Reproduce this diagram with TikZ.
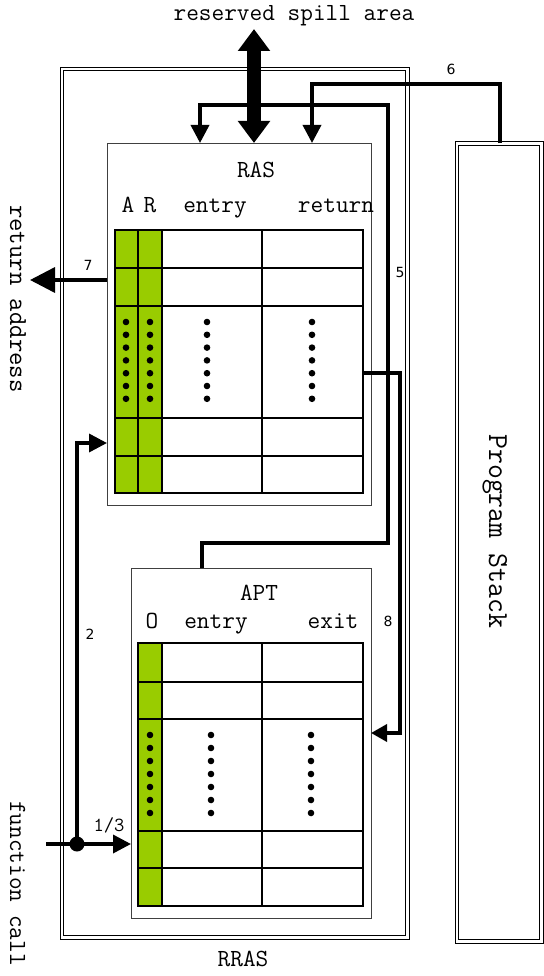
\documentclass[tikz,border=0pt]{standalone}
\usepackage{fontspec}
\newfontfamily\digitfont{DejaVu Sans}
\usetikzlibrary{arrows.meta,calc}
\definecolor{cellgreen}{RGB}{153,204,0}

\begin{document}
\begin{tikzpicture}[x=1pt,y=-1pt,
  lbl/.style={font=\ttfamily\fontsize{24.6}{27}\selectfont, inner sep=0pt, anchor=base},
  num/.style={font=\digitfont\fontsize{14}{16}\selectfont, inner sep=0pt, anchor=base},
  frame/.style={draw, double, double distance=2.3pt, line width=1.2pt, inner sep=0pt, outer sep=0pt},
  tablebox/.style={draw=black!75, line width=0.9pt, inner sep=0pt, outer sep=0pt},
  grid/.style={line width=1.1pt},
  wire/.style={line width=3.5pt},
  conn/.style={line width=3.5pt, -{Triangle[length=18pt,width=18pt]}},
  bigarrow/.style={line width=14pt, {Triangle[length=22pt,width=31pt]}-{Triangle[length=22pt,width=31pt]}}]
\useasboundingbox (0,0) rectangle (543,976);

% Boxes
\node[frame, minimum width=345.5pt, minimum height=868.5pt] (rras) at (234.75,503.25) {};
\node[frame, minimum width=84.5pt, minimum height=798pt] (prog) at (499.25,542.5) {};
\node[tablebox, minimum width=264pt, minimum height=362pt] (ras) at (239,324) {};
\node[tablebox, minimum width=240pt, minimum height=350pt] (apt) at (251,743) {};

% RAS table
\fill[cellgreen] (115,230) rectangle (162,493);
\draw[grid] (115,230) rectangle (363,493);
\foreach \y in {268,306,418,456} \draw[grid] (115,\y) -- (363,\y);
\foreach \x in {138,162,262} \draw[grid] (\x,230) -- (\x,493);
\foreach \x in {126,150,207,312}
  \foreach \k in {0,...,6} \fill (\x,{322+12.8*\k}) circle (3.3pt);

% APT table
\fill[cellgreen] (138,643) rectangle (162,906);
\draw[grid] (138,643) rectangle (363,906);
\foreach \y in {682,719,831,868} \draw[grid] (138,\y) -- (363,\y);
\foreach \x in {162,262} \draw[grid] (\x,643) -- (\x,906);
\foreach \x in {150,211,311}
  \foreach \k in {0,...,6} \fill (\x,{735+13*\k}) circle (3.3pt);

% Labels
\node[lbl] (spill) at (294,21) {reserved spill area};
\node[lbl] (rastitle) at (256,178) {RAS};
\node[lbl] (colA) at (128,213) {A};
\node[lbl] (colR) at (150,213) {R};
\node[lbl] (rasentry) at (215,213) {entry};
\node[lbl] (rasreturn) at (336,213) {return};
\node[lbl] (apttitle) at (259,600) {APT};
\node[lbl] (colO) at (152,628) {O};
\node[lbl] (aptentry) at (216,628) {entry};
\node[lbl] (aptexit) at (333,628) {exit};
\node[lbl] (rraslbl) at (243,966) {RRAS};
\node[lbl, rotate=-90, anchor=base west, font=\ttfamily\fontsize{26}{28}\selectfont] (retlbl) at (10,205) {return address};
\node[lbl, rotate=-90, anchor=base west] (calllbl) at (10,801) {function call};
\node[lbl, rotate=-90, anchor=base west, font=\ttfamily\fontsize{29}{31}\selectfont] (proglbl) at (489,434) {Program Stack};

% Connectors
\coordinate (spilltop) at (254,29);
\draw[bigarrow] (spilltop) -- (spilltop |- ras.north);

\coordinate (c5a) at (202,543);
\coordinate (c5b) at (388,543);
\coordinate (c5c) at (388,105);
\coordinate (c5d) at (200,105);
\draw[conn] (c5a |- apt.north) -- (c5a) -- (c5b) -- (c5c) -- (c5d) -- (c5d |- ras.north);
\node[num] (n5) at (400,277) {5};

\coordinate (c6a) at (500,84);
\coordinate (c6b) at (312,84);
\draw[conn] (c6a |- prog.north) -- (c6a) -- (c6b) -- (c6b |- ras.north);
\node[num] (n6) at (451,75) {6};

\coordinate (retaddr) at (30,280);
\draw[line width=3.5pt, -{Triangle[length=25pt,width=25pt]}] (retaddr -| ras.west) -- (retaddr);
\node[num] (n7) at (88,270) {7};

\coordinate (rasout) at (363,373);
\coordinate (c8a) at (400,373);
\coordinate (c8b) at (400,733);
\draw[line width=3.5pt, -{Triangle[length=16pt,width=17pt]}] (rasout) -- (c8a) -- (c8b) -- (c8b -| apt.east);
\node[num] (n8) at (388,626) {8};

\coordinate (callin) at (46,844);
\node[circle, fill, inner sep=0pt, minimum size=15pt] (fork) at (77,844) {};
\draw[wire] (callin) -- (fork.center);
\draw[conn] (fork.center) -- (fork.center -| apt.west);
\node[lbl, font=\ttfamily\fontsize{20}{22}\selectfont] (n13) at (109,831) {1/3};

\coordinate (c2) at (77,443);
\draw[conn] (fork.center) -- (c2) -- (c2 -| ras.west);
\node[num] (n2) at (90,639) {2};

\end{tikzpicture}
\end{document}
